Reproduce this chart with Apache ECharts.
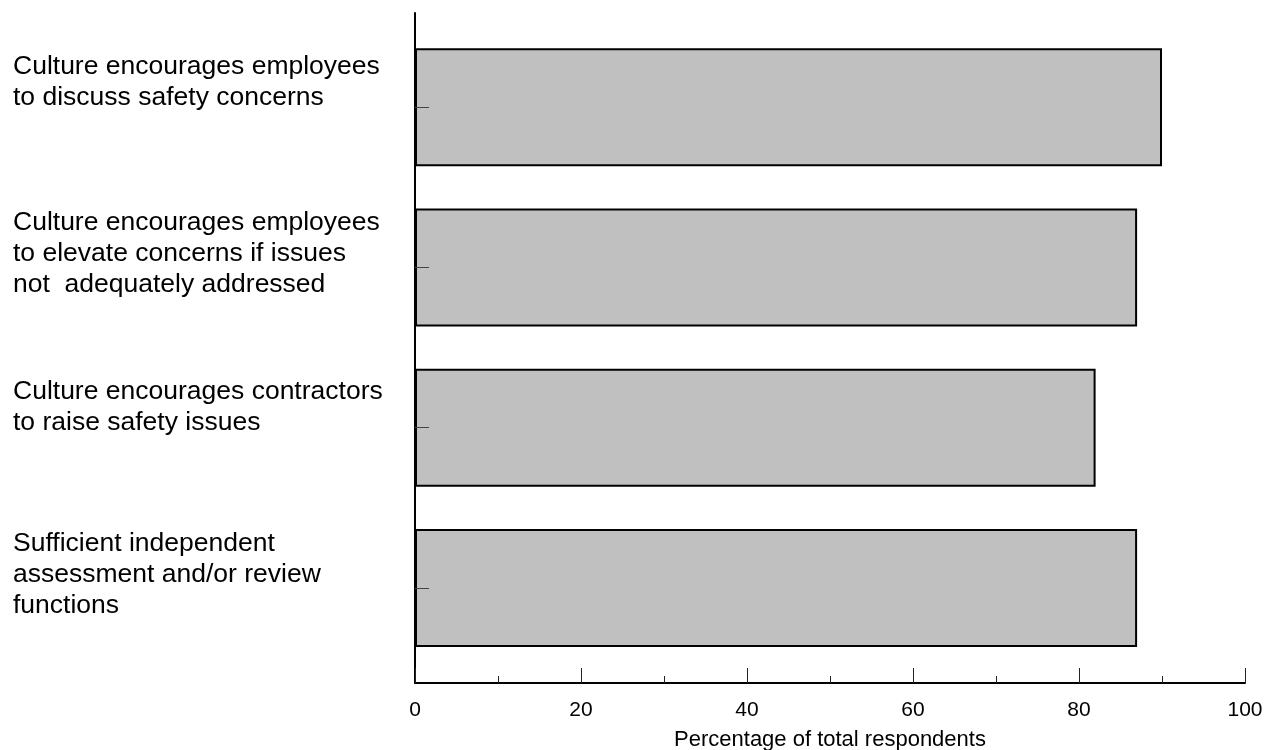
<!DOCTYPE html>
<html>
<head>
<meta charset="utf-8">
<script src="https://cdn.jsdelivr.net/npm/echarts@6/dist/echarts.min.js"></script>
<style>
  html, body { margin: 0; padding: 0; background: #fff; }
  #chart { width: 1266px; height: 750px; }
</style>
</head>
<body>
<div id="chart"></div>
<script>
const categories = [
  "Culture encourages employees\nto discuss safety concerns",
  "Culture encourages employees\nto elevate concerns if issues\nnot  adequately addressed",
  "Culture encourages contractors\nto raise safety issues",
  "Sufficient independent\nassessment and/or review\nfunctions"
];
const values = [90, 87, 82, 87];
const xAxisTitle = "Percentage of total respondents";

// per-label upward shift of the text block (px), layout only
const labelShift = [25, 14, 20, 13];
const FONT = "'Liberation Sans', Arial, sans-serif";

const rich = { t: { fontFamily: FONT, fontSize: 26.5, lineHeight: 31, color: '#000' } };
labelShift.forEach((s, i) => {
  rich['g' + i] = { fontSize: 1, lineHeight: s * 2, color: 'rgba(0,0,0,0)' };
});

const chart = echarts.init(document.getElementById('chart'), null, { renderer: 'canvas' });
chart.setOption({
  animation: false,
  backgroundColor: '#ffffff',
  grid: [
    { left: 415, right: 21, top: 13, bottom: 67, containLabel: false, outerBoundsMode: 'none' },
    { left: 415, right: 21, top: 27, bottom: 82, containLabel: false, outerBoundsMode: 'none' }
  ],
  xAxis: [
    {
      gridIndex: 0, type: 'value', min: 0, max: 100, interval: 20,
      axisLine: { show: true, lineStyle: { color: '#000', width: 2 } },
      axisTick: { show: true, inside: true, length: 15, lineStyle: { color: '#222', width: 1 } },
      minorTick: { show: true, splitNumber: 2, length: 7, lineStyle: { color: '#222', width: 1 } },
      splitLine: { show: false },
      minorSplitLine: { show: false },
      axisLabel: { fontFamily: FONT, fontSize: 21, color: '#000', margin: 17 },
      name: xAxisTitle,
      nameLocation: 'middle',
      nameGap: 46,
      nameTextStyle: { fontFamily: FONT, fontSize: 22, color: '#000' },
      z: 3
    },
    {
      gridIndex: 1, type: 'value', min: 0, max: 100,
      show: false
    }
  ],
  yAxis: [
    {
      gridIndex: 0, type: 'value', min: 0, max: 1,
      axisLine: { show: true, lineStyle: { color: '#000', width: 2 } },
      axisTick: { show: false },
      axisLabel: { show: false },
      splitLine: { show: false },
      z: 3
    },
    {
      gridIndex: 1, type: 'category', inverse: true,
      data: categories.map(c => ({
        value: c,
        textStyle: { align: 'left', verticalAlign: 'middle' }
      })),
      axisLine: { show: false },
      axisTick: { show: true, inside: true, alignWithLabel: true, length: 14, lineStyle: { color: '#444', width: 1 } },
      splitLine: { show: false },
      axisLabel: {
        interval: 0,
        align: 'left',
        verticalAlign: 'middle',
        margin: 402,
        fontFamily: FONT,
        fontSize: 26.5,
        lineHeight: 31,
        color: '#000',
        formatter: (value, index) =>
          value.split('\n').map(l => '{t|' + l + '}').join('\n') + '\n{g' + index + '| }',
        rich: rich
      },
      z: 3
    }
  ],
  series: [
    {
      type: 'bar',
      xAxisIndex: 1,
      yAxisIndex: 1,
      data: values,
      barWidth: 118,
      itemStyle: { color: '#c0c0c0', borderColor: '#000', borderWidth: 2 },
      z: 2
    }
  ]
});
</script>
</body>
</html>
